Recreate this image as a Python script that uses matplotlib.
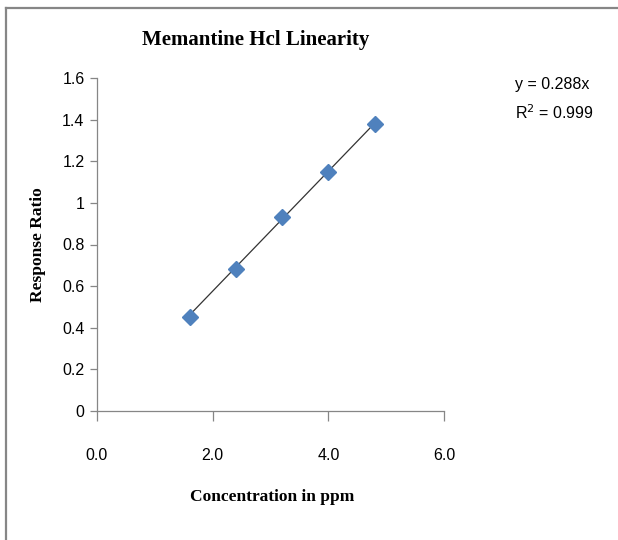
import matplotlib.pyplot as plt
from matplotlib.lines import Line2D

# data
conc = [1.6, 2.4, 3.2, 4.0, 4.8]
response = [0.45, 0.68, 0.93, 1.15, 1.38]
slope = 0.288
x_ticks = [0.0, 2.0, 4.0, 6.0]
y_ticks = [0, 0.2, 0.4, 0.6, 0.8, 1.0, 1.2, 1.4, 1.6]
y_tick_labels = ['0', '0.2', '0.4', '0.6', '0.8', '1', '1.2', '1.4', '1.6']

W, H = 618, 540
serif = ['Liberation Serif', 'DejaVu Serif']
sans = ['Liberation Sans Narrow', 'Liberation Sans', 'DejaVu Sans']
grey = '#868686'

fig = plt.figure(figsize=(W / 100, H / 100), dpi=100)
# axes box in pixels: x 97..444, y 78..411 (top-down)
ax = fig.add_axes([97 / W, 1 - 411 / H, (444 - 97) / W, (411 - 78) / H])

# trend line through origin, drawn over data range
fit_x = [min(conc), max(conc)]
fit_y = [slope * v for v in fit_x]
ax.plot(fit_x, fit_y, color='#333333', lw=0.9, zorder=2)
ax.plot(conc, response, linestyle='none', marker='D', markersize=8.5,
        color='#4F81BD', markeredgecolor='#4F81BD', zorder=3)

ax.set_xlim(0, 6)
ax.set_ylim(0, 1.6)
ax.set_xticks(x_ticks)
ax.set_xticklabels(['%.1f' % v for v in x_ticks], fontsize=11.5, family=sans)
ax.set_yticks(y_ticks)
ax.set_yticklabels(y_tick_labels, fontsize=11.5, family=sans)

for side in ['top', 'right']:
    ax.spines[side].set_visible(False)
for side in ['left', 'bottom']:
    ax.spines[side].set_color(grey)
    ax.spines[side].set_linewidth(0.9)
ax.tick_params(axis='x', direction='out', length=7, color=grey, width=0.9, pad=20)
ax.tick_params(axis='y', direction='out', length=5, color=grey, width=0.9, pad=4)

fig.text(256 / W, 1 - 40 / H, 'Memantine Hcl Linearity', ha='center', va='center',
         fontsize=15, fontweight='bold', family=serif)
fig.text(272 / W, 1 - 497 / H, 'Concentration in ppm', ha='center', va='center',
         fontsize=12.5, fontweight='bold', family=serif)
fig.text(38 / W, 1 - 245 / H, 'Response Ratio', ha='center', va='center', rotation=90,
         fontsize=12.5, fontweight='bold', family=serif)

fig.text(515 / W, 1 - 85 / H, 'y = %.3fx' % slope, ha='left', va='center',
         fontsize=11.5, family=sans)
fig.text(515 / W, 1 - 113 / H, 'R$^2$ = 0.999', ha='left', va='center',
         fontsize=11.5, family=sans)

# outer frame: top and left edges only
fig.add_artist(Line2D([6 / W, 1], [1 - 8 / H, 1 - 8 / H], color=grey, lw=1.6,
                      transform=fig.transFigure))
fig.add_artist(Line2D([6 / W, 6 / W], [0, 1 - 8 / H], color=grey, lw=1.6,
                      transform=fig.transFigure))

fig.savefig('out.png', dpi=100)
